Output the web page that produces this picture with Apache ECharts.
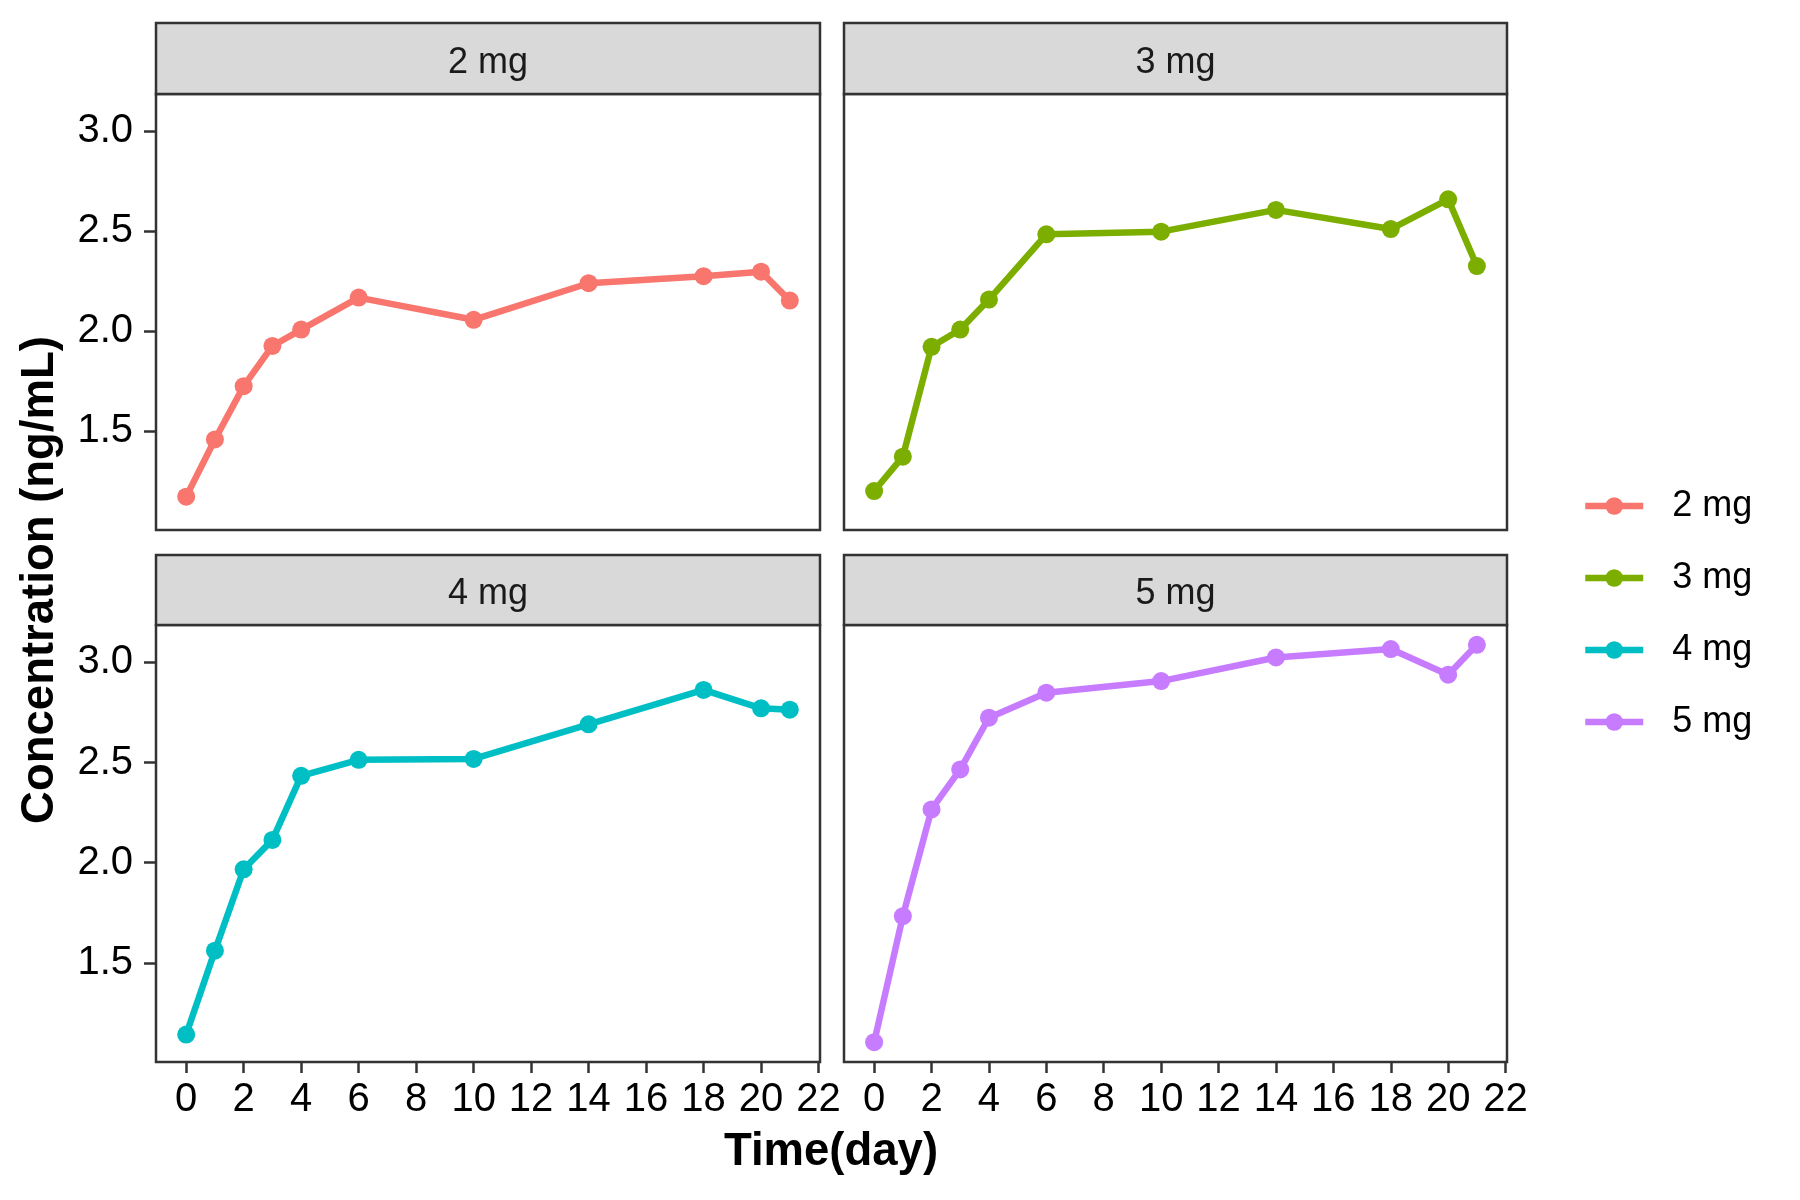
<!DOCTYPE html>
<html>
<head>
<meta charset="utf-8">
<script src="https://cdn.jsdelivr.net/npm/echarts@6/dist/echarts.min.js"></script>
<style>
html,body{margin:0;padding:0;background:#fff;}
#main{width:1800px;height:1200px;}
</style>
</head>
<body>
<div id="main"></div>
<script>
// ---- data ----
const days = [0, 1, 2, 3, 4, 6, 10, 14, 18, 20, 21];
const doseNames = ['2 mg', '3 mg', '4 mg', '5 mg'];
const conc2mg = [1.172, 1.458, 1.725, 1.926, 2.008, 2.168, 2.057, 2.240, 2.275, 2.298, 2.153];
const conc3mg = [1.200, 1.372, 1.922, 2.008, 2.158, 2.485, 2.498, 2.607, 2.511, 2.660, 2.326];
const conc4mg = [1.142, 1.561, 1.967, 2.114, 2.434, 2.514, 2.518, 2.691, 2.863, 2.771, 2.764];
const conc5mg = [1.104, 1.733, 2.266, 2.466, 2.724, 2.849, 2.907, 3.025, 3.067, 2.939, 3.088];
const xTicks = [0, 2, 4, 6, 8, 10, 12, 14, 16, 18, 20, 22];
const yTicks = [1.5, 2.0, 2.5, 3.0];
const colors = ['#F8766D', '#7CAE00', '#00BFC4', '#C77CFF'];
const xTitle = 'Time(day)';
const yTitle = 'Concentration (ng/mL)';

const allConc = [conc2mg, conc3mg, conc4mg, conc5mg];

// ---- layout ----
const FONT = "'Liberation Sans', Arial, sans-serif";
const panels = [
  {left: 156, top: 94, width: 664, height: 436, stripTop: 23},
  {left: 844, top: 94, width: 663, height: 436, stripTop: 23},
  {left: 156, top: 625, width: 664, height: 437, stripTop: 555},
  {left: 844, top: 625, width: 663, height: 437, stripTop: 555}
];
const yMin = 1.005, yMax = 3.187;
const xMin = -1.05, xMax = 22.05;

const grids = [], xAxes = [], yAxes = [], series = [], graphics = [], legends = [];

panels.forEach((p, i) => {
  const isLeft = (i % 2 === 0);
  const isBottom = (i >= 2);
  grids.push({
    left: p.left, top: p.top, width: p.width, height: p.height,
    show: true, borderColor: '#333333', borderWidth: 2.5, backgroundColor: '#ffffff',
    containLabel: false
  });
  xAxes.push({
    type: 'value', gridIndex: i, min: xMin, max: xMax, position: 'bottom',
    axisLine: {show: false, onZero: false},
    splitLine: {show: false},
    axisTick: {show: isBottom, length: 11, customValues: xTicks,
      lineStyle: {color: '#333333', width: 2.5}},
    axisLabel: {show: isBottom, customValues: xTicks, margin: 18,
      color: '#000000', fontSize: 40, fontFamily: FONT,
      formatter: v => String(v)}
  });
  yAxes.push({
    type: 'value', gridIndex: i, min: yMin, max: yMax, position: 'left',
    axisLine: {show: false, onZero: false},
    splitLine: {show: false},
    axisTick: {show: isLeft, length: 12, customValues: yTicks,
      lineStyle: {color: '#333333', width: 2.5}},
    axisLabel: {show: isLeft, customValues: yTicks, margin: 23,
      color: '#000000', fontSize: 40, fontFamily: FONT,
      formatter: v => v.toFixed(1)}
  });
  series.push({
    name: doseNames[i], type: 'line', xAxisIndex: i, yAxisIndex: i,
    data: days.map((d, k) => [d, allConc[i][k]]),
    symbol: 'circle', symbolSize: 18, showSymbol: true,
    lineStyle: {color: colors[i], width: 6.5},
    itemStyle: {color: colors[i]},
    clip: false, animation: false
  });
  // facet strip
  graphics.push({
    type: 'rect', silent: true,
    shape: {x: p.left, y: p.stripTop, width: p.width, height: p.top - p.stripTop},
    style: {fill: '#D9D9D9', stroke: '#333333', lineWidth: 2.5}
  });
  graphics.push({
    type: 'text', silent: true,
    x: p.left + p.width / 2, y: (p.stripTop + p.top) / 2 + 4.5,
    style: {text: doseNames[i], fill: '#1A1A1A', font: '36px ' + FONT,
      align: 'center', verticalAlign: 'middle'}
  });
  // legend entry
  legends.push({
    data: [doseNames[i]],
    left: 1577, top: [503, 575, 647, 719][i] - 20,
    itemWidth: 58, itemHeight: 22,
    orient: 'vertical',
    selectedMode: false,
    lineStyle: {width: 6.5},
    textStyle: {fontSize: 36, fontFamily: FONT, color: '#000000', padding: [0, 0, 0, 24]}
  });
});

graphics.push({
  type: 'text', silent: true, x: 831, y: 1152,
  style: {text: xTitle, fill: '#000000', font: 'bold 45.5px ' + FONT,
    align: 'center', verticalAlign: 'middle'}
});
graphics.push({
  type: 'text', silent: true, x: 40, y: 580, rotation: Math.PI / 2,
  style: {text: yTitle, fill: '#000000', font: 'bold 45.5px ' + FONT,
    align: 'center', verticalAlign: 'middle'}
});

const chart = echarts.init(document.getElementById('main'), null, {renderer: 'canvas'});
chart.setOption({
  backgroundColor: '#ffffff',
  animation: false,
  grid: grids,
  xAxis: xAxes,
  yAxis: yAxes,
  series: series,
  legend: legends,
  graphic: graphics
});
</script>
</body>
</html>
